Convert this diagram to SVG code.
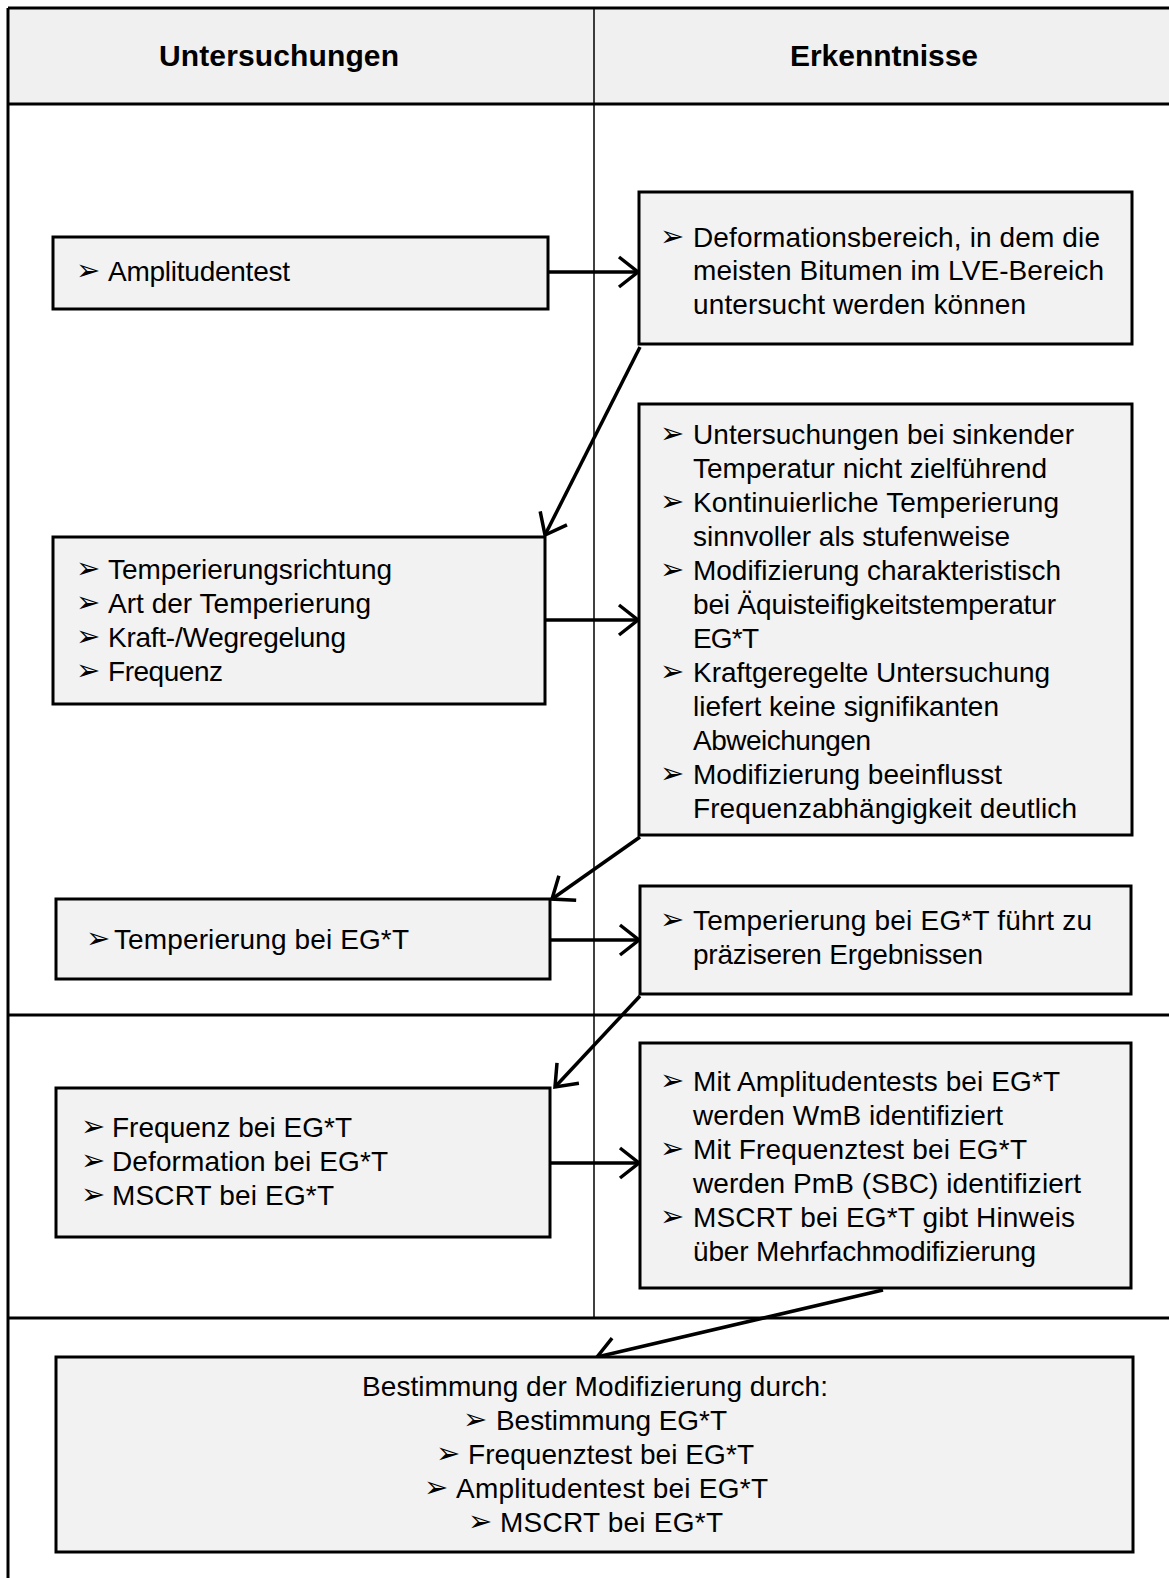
<svg xmlns="http://www.w3.org/2000/svg" width="1169" height="1578" viewBox="0 0 1169 1578">
<defs>
<style>
.ln{fill:none;stroke:#000;stroke-width:3}
.div{fill:none;stroke:#000;stroke-width:1.5}
.box{fill:#f2f2f2;stroke:#000;stroke-width:3}
.t{font-family:"Liberation Sans",Arial,sans-serif;font-size:28px;fill:#000}
.h{font-family:"Liberation Sans",Arial,sans-serif;font-size:30px;font-weight:bold;fill:#000}
.b{font-family:"DejaVu Sans",sans-serif;font-size:29px;fill:#000}
.c{fill:none;stroke:#000;stroke-width:3.5;marker-end:url(#ah)}
</style>
<marker id="ah" markerUnits="userSpaceOnUse" viewBox="0 0 26 34" markerWidth="26" markerHeight="34" refX="21" refY="17" orient="auto" overflow="visible">
<path d="M2,2 L21,17 L2,32" fill="none" stroke="#000" stroke-width="3.5"/>
</marker>
</defs>
<rect x="0" y="0" width="1169" height="1578" fill="#fff"/>
<g id="frame">
<rect x="8" y="8" width="1161" height="96" fill="#f0f0f0"/>
<line class="ln" x1="8" y1="8" x2="1169" y2="8"/>
<line class="ln" x1="8" y1="8" x2="8" y2="1578"/>
<line class="ln" x1="8" y1="104" x2="1169" y2="104"/>
<line class="div" x1="594" y1="8" x2="594" y2="1318"/>
<line class="ln" x1="8" y1="1015" x2="1169" y2="1015"/>
<line class="ln" x1="8" y1="1318" x2="1169" y2="1318"/>
<text class="h" x="159" y="66" textLength="240">Untersuchungen</text>
<text class="h" x="790" y="66" textLength="188">Erkenntnisse</text>
</g>
<g id="connectors">
<path class="c" d="M548,272 L638,272"/>
<path class="c" d="M640,347 L545,535"/>
<path class="c" d="M545,620 L638,620"/>
<path class="c" d="M640,837 L552,899"/>
<path class="c" d="M550,940 L639,940"/>
<path class="c" d="M640,996 L555,1087"/>
<path class="c" d="M550,1163 L639,1163"/>
<path class="c" d="M883,1290 L597,1357"/>
</g>
<g id="n-amplitudentest">
<rect class="box" x="53" y="237" width="495" height="72"/>
<text class="b" x="76" y="280">➢</text>
<text class="t" x="108" y="281" textLength="182">Amplitudentest</text>
</g>
<g id="n-deformationsbereich">
<rect class="box" x="639" y="192" width="493" height="152"/>
<text class="b" x="660" y="246">➢</text>
<text class="t" x="693" y="247" textLength="407">Deformationsbereich,  in dem die</text>
<text class="t" x="693" y="280" textLength="411">meisten Bitumen im LVE-Bereich</text>
<text class="t" x="693" y="314" textLength="333">untersucht werden können</text>
</g>
<g id="n-temperierungsrichtung">
<rect class="box" x="53" y="537" width="492" height="167"/>
<text class="b" x="76" y="578">➢</text>
<text class="t" x="108" y="579" textLength="284">Temperierungsrichtung</text>
<text class="b" x="76" y="612">➢</text>
<text class="t" x="108" y="613" textLength="263">Art der Temperierung</text>
<text class="b" x="76" y="646">➢</text>
<text class="t" x="108" y="647" textLength="238">Kraft-/Wegregelung</text>
<text class="b" x="76" y="680">➢</text>
<text class="t" x="108" y="681" textLength="115">Frequenz</text>
</g>
<g id="n-erkenntnisse-temperierung">
<rect class="box" x="639" y="404" width="493" height="431"/>
<text class="b" x="660" y="443">➢</text>
<text class="t" x="693" y="444" textLength="381">Untersuchungen  bei sinkender</text>
<text class="t" x="693" y="478" textLength="354">Temperatur nicht zielführend</text>
<text class="b" x="660" y="511">➢</text>
<text class="t" x="693" y="512" textLength="366">Kontinuierliche  Temperierung</text>
<text class="t" x="693" y="546" textLength="317">sinnvoller als stufenweise</text>
<text class="b" x="660" y="579">➢</text>
<text class="t" x="693" y="580" textLength="368">Modifizierung  charakteristisch</text>
<text class="t" x="693" y="614" textLength="363">bei Äquisteifigkeitstemperatur</text>
<text class="t" x="693" y="648" textLength="66">EG*T</text>
<text class="b" x="660" y="681">➢</text>
<text class="t" x="693" y="682" textLength="357">Kraftgeregelte Untersuchung</text>
<text class="t" x="693" y="716" textLength="306">liefert keine signifikanten</text>
<text class="t" x="693" y="750" textLength="178">Abweichungen</text>
<text class="b" x="660" y="783">➢</text>
<text class="t" x="693" y="784" textLength="309">Modifizierung  beeinflusst</text>
<text class="t" x="693" y="818" textLength="384">Frequenzabhängigkeit  deutlich</text>
</g>
<g id="n-temperierung-egt">
<rect class="box" x="56" y="899" width="494" height="80"/>
<text class="b" x="86" y="948">➢</text>
<text class="t" x="114" y="949" textLength="295">Temperierung bei EG*T</text>
</g>
<g id="n-praeziser">
<rect class="box" x="640" y="886" width="491" height="108"/>
<text class="b" x="660" y="929">➢</text>
<text class="t" x="693" y="930" textLength="399">Temperierung bei EG*T führt zu</text>
<text class="t" x="693" y="964" textLength="290">präziseren  Ergebnissen</text>
</g>
<g id="n-frequenz-egt">
<rect class="box" x="56" y="1088" width="494" height="149"/>
<text class="b" x="81" y="1136">➢</text>
<text class="t" x="112" y="1137" textLength="240">Frequenz bei EG*T</text>
<text class="b" x="81" y="1170">➢</text>
<text class="t" x="112" y="1171" textLength="276">Deformation  bei EG*T</text>
<text class="b" x="81" y="1204">➢</text>
<text class="t" x="112" y="1205" textLength="222">MSCRT bei EG*T</text>
</g>
<g id="n-identifiziert">
<rect class="box" x="640" y="1043" width="491" height="245"/>
<text class="b" x="660" y="1090">➢</text>
<text class="t" x="693" y="1091" textLength="367">Mit Amplitudentests  bei EG*T</text>
<text class="t" x="693" y="1125" textLength="310">werden WmB identifiziert</text>
<text class="b" x="660" y="1158">➢</text>
<text class="t" x="693" y="1159" textLength="334">Mit Frequenztest  bei EG*T</text>
<text class="t" x="693" y="1193" textLength="388">werden PmB (SBC) identifiziert</text>
<text class="b" x="660" y="1226">➢</text>
<text class="t" x="693" y="1227" textLength="382">MSCRT bei EG*T gibt Hinweis</text>
<text class="t" x="693" y="1261" textLength="343">über Mehrfachmodifizierung</text>
</g>
<g id="n-bestimmung">
<rect class="box" x="56" y="1357" width="1077" height="195"/>
<text class="t" x="362" y="1396" textLength="466">Bestimmung  der Modifizierung  durch:</text>
<text class="b" x="463" y="1429">➢</text>
<text class="t" x="496" y="1430" textLength="231">Bestimmung  EG*T</text>
<text class="b" x="436" y="1463">➢</text>
<text class="t" x="468" y="1464" textLength="286">Frequenztest  bei EG*T</text>
<text class="b" x="424" y="1497">➢</text>
<text class="t" x="456" y="1498" textLength="312">Amplitudentest  bei EG*T</text>
<text class="b" x="468" y="1531">➢</text>
<text class="t" x="500" y="1532" textLength="223">MSCRT bei EG*T</text>
</g>
</svg>
